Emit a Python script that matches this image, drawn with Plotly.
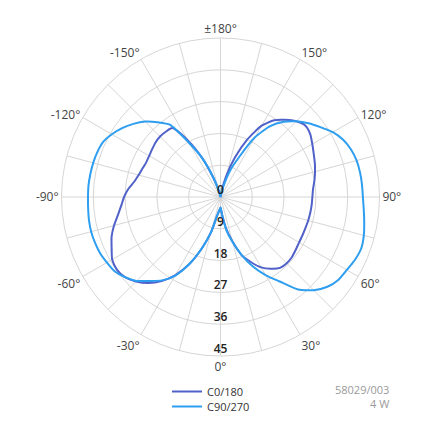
import plotly.graph_objects as go

# gamma angles (deg) for each half-plane
gamma = list(range(0, 185, 5))

# C0/180 series
c0 = [3, 5, 9, 13, 17.5, 20.3, 23, 24.8, 26.2, 26.5, 26.4, 26, 25.7, 25.6, 25.6, 25.7, 25.8, 25.9,
      26.0, 26.3, 27, 27.7, 28.4, 29.1, 30, 31, 31.4, 30.3, 28.5, 26.5, 23.3, 18, 11.8, 6, 1.5, 0, 0]
c180 = [3, 3.8, 5.3, 10.3, 15.5, 21, 25.5, 29, 31.8, 33.8, 35.3, 35.8, 35.4, 34, 32.8, 31.2, 29.5, 28.2,
        27.3, 26.2, 24.8, 24, 23.5, 23.2, 23.3, 23.6, 24, 24.2, 24.1, 23.8, 18.5, 12, 5.5, 1.5, 0.3, 0, 0]
# C90/270 series
c90 = [3, 5, 9.5, 13.2, 17.5, 21.7, 25.5, 29.2, 34.2, 37.3, 39.5, 40.8, 41.3, 42.0, 42.4, 42.0, 41.3, 40.7,
       40.3, 40.2, 40.1, 39.9, 39.3, 38.3, 36.7, 34.5, 32.5, 30.3, 27.8, 24.5, 19.5, 12.5, 8.0, 3, 0.5, 0, 0]
c270 = [3, 3.8, 5.3, 10.3, 15.5, 21, 25.8, 28.8, 31, 33.6, 35.3, 36.6, 37.1, 37.6, 37.8, 37.9, 37.8, 37.6,
        37.5, 37.5, 37.4, 37.3, 37.1, 36.7, 35.5, 34, 32.2, 30.2, 27.6, 25, 17.5, 12, 5.5, 1.5, 0.3, 0, 0]

series_names = ["C0/180", "C90/270"]
series_colors = ["#5061c9", "#2e9ef0"]

radial_ticks = [0, 9, 18, 27, 36, 45]
angle_ticks = list(range(0, 360, 15))
angle_labels = {0: "0°", 30: "30°", 60: "60°", 90: "90°", 120: "120°", 150: "150°", 180: "±180°",
                210: "-150°", 240: "-120°", 270: "-90°", 300: "-60°", 330: "-30°"}
info_lines = ["58029/003", "4 W"]

W = H = 435
OFF = 8  # page body margin compensation


def px_x(x):
    return (x - OFF) / W


def px_y(y):
    return 1 - (y - OFF) / H


def full_curve(pos, neg):
    theta = [-g for g in reversed(gamma)] + gamma[1:]
    r = list(reversed(neg)) + pos[1:]
    return theta, r


fig = go.Figure()
legend_ids = ["legend", "legend2"]
for name, color, (pos, neg), lg in zip(series_names, series_colors, [(c0, c180), (c90, c270)], legend_ids):
    th, rr = full_curve(pos, neg)
    fig.add_trace(go.Scatterpolar(theta=th, r=rr, mode="lines", name=name, legend=lg,
                                  line=dict(color=color, width=2, shape="spline", smoothing=0.6),
                                  hoverinfo="skip"))

# radial tick labels along the 0° axis
fig.add_trace(go.Scatterpolar(theta=[0] * len(radial_ticks), r=radial_ticks, mode="text",
                              text=[str(v) for v in radial_ticks], textposition="top center",
                              textfont=dict(family="Open Sans", size=12, color="#222222", weight=600),
                              showlegend=False, hoverinfo="skip"))

legend_style = dict(xanchor="left", yanchor="top", bgcolor="rgba(0,0,0,0)",
                    font=dict(size=11, color="#333333"))

fig.update_layout(
    width=W, height=H,
    margin=dict(l=0, r=0, t=0, b=0),
    paper_bgcolor="white",
    font=dict(family="Open Sans", size=12, color="#444444"),
    polar=dict(
        domain=dict(x=[px_x(61.5), px_x(379.5)], y=[px_y(356), px_y(38)]),
        bgcolor="white",
        angularaxis=dict(rotation=270, direction="counterclockwise",
                         tickmode="array", tickvals=angle_ticks,
                         ticktext=[angle_labels.get(a, "") for a in angle_ticks],
                         showgrid=True, gridcolor="#d6d6d6", gridwidth=1,
                         showline=True, linecolor="#d6d6d6", linewidth=1,
                         ticks="", tickfont=dict(size=12, color="#444444")),
        radialaxis=dict(range=[0, 45], tickvals=radial_ticks, showticklabels=False,
                        showgrid=True, gridcolor="#d6d6d6", gridwidth=1,
                        showline=False, ticks=""),
    ),
    showlegend=True,
    legend=dict(x=px_x(167), y=px_y(377), **legend_style),
    legend2=dict(x=px_x(167), y=px_y(392), **legend_style),
)

fig.add_annotation(x=px_x(391), y=px_y(396), xref="paper", yref="paper",
                   text="<br>".join(info_lines), showarrow=False, xanchor="right", yanchor="middle",
                   align="right", font=dict(size=11, color="#9a9a9a"))

fig.write_html("out.html")
